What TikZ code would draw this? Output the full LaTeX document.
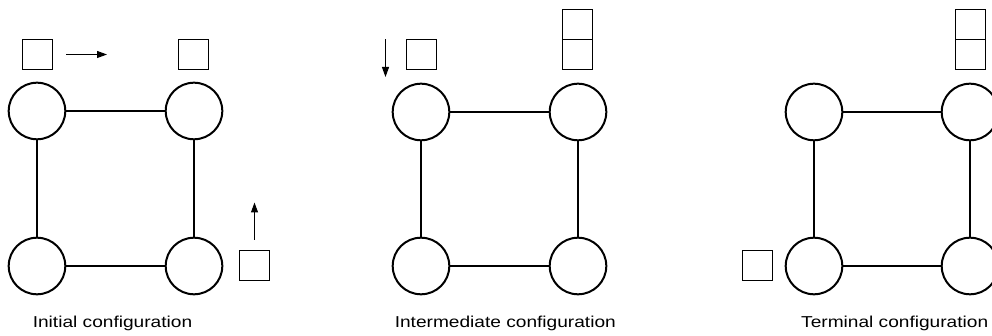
\documentclass[tikz,border=0pt]{standalone}
\usepackage{fontspec}
\setmainfont{Liberation Sans}
\usetikzlibrary{arrows.meta}
\tikzset{
  vert/.style={circle,draw,line width=2pt,minimum size=56.6pt,inner sep=0pt},
  tok/.style={rectangle,draw,line width=1pt,minimum size=30pt,inner sep=0pt},
  linkline/.style={line width=2pt},
  move/.style={line width=1pt,-{Triangle[length=10pt,width=7pt]}},
  captext/.style={inner sep=0pt,anchor=base,font=\fontsize{15.8pt}{18pt}\selectfont}
}
\newcommand{\widetext}[1]{\scalebox{1.21}[1]{#1}}
\begin{document}
\begin{tikzpicture}[x=1pt,y=-1pt]
\useasboundingbox (0,0) rectangle (992,336);
% Panel 1
\node[vert] (a1) at (37,111) {};
\node[vert] (b1) at (194,111) {};
\node[vert] (c1) at (37,266) {};
\node[vert] (d1) at (194,266) {};
\draw[linkline] (a1) -- (b1) (b1) -- (d1) (d1) -- (c1) (c1) -- (a1);
\node[tok] (s1a) at (37.5,54.5) {};
\node[tok] (s1b) at (193.5,54.5) {};
\node[tok] (s1c) at (254.5,265.5) {};
\coordinate (r1s) at (66,54.5);
\coordinate (r1e) at (107,54.5);
\draw[move] (r1s) -- (r1e);
\coordinate (u1s) at (254.5,240);
\coordinate (u1e) at (254.5,202.5);
\draw[move] (u1s) -- (u1e);
\node[captext] (t1) at (112.5,327.3) {\widetext{Initial configuration}};
% Panel 2
\node[vert] (a2) at (421,112) {};
\node[vert] (b2) at (578,112) {};
\node[vert] (c2) at (421,266) {};
\node[vert] (d2) at (578,266) {};
\draw[linkline] (a2) -- (b2) (b2) -- (d2) (d2) -- (c2) (c2) -- (a2);
\node[tok] (s2a) at (421.5,54.5) {};
\node[tok] (s2b) at (577.5,54.5) {};
\node[tok] (s2c) at (577.5,24.5) {};
\coordinate (d2s) at (385.5,39.3);
\coordinate (d2e) at (385.5,77);
\draw[move] (d2s) -- (d2e);
\node[captext] (t2) at (505.3,327.3) {\widetext{Intermediate configuration}};
% Panel 3
\node[vert] (a3) at (814,112) {};
\node[vert] (b3) at (970,112) {};
\node[vert] (c3) at (814,266) {};
\node[vert] (d3) at (970,266) {};
\draw[linkline] (a3) -- (b3) (b3) -- (d3) (d3) -- (c3) (c3) -- (a3);
\node[tok] (s3a) at (970.5,54.5) {};
\node[tok] (s3b) at (970.5,24.5) {};
\node[tok] (s3c) at (757.5,265.5) {};
\node[captext] (t3) at (894.7,327.3) {\widetext{Terminal configuration}};
\end{tikzpicture}
\end{document}
